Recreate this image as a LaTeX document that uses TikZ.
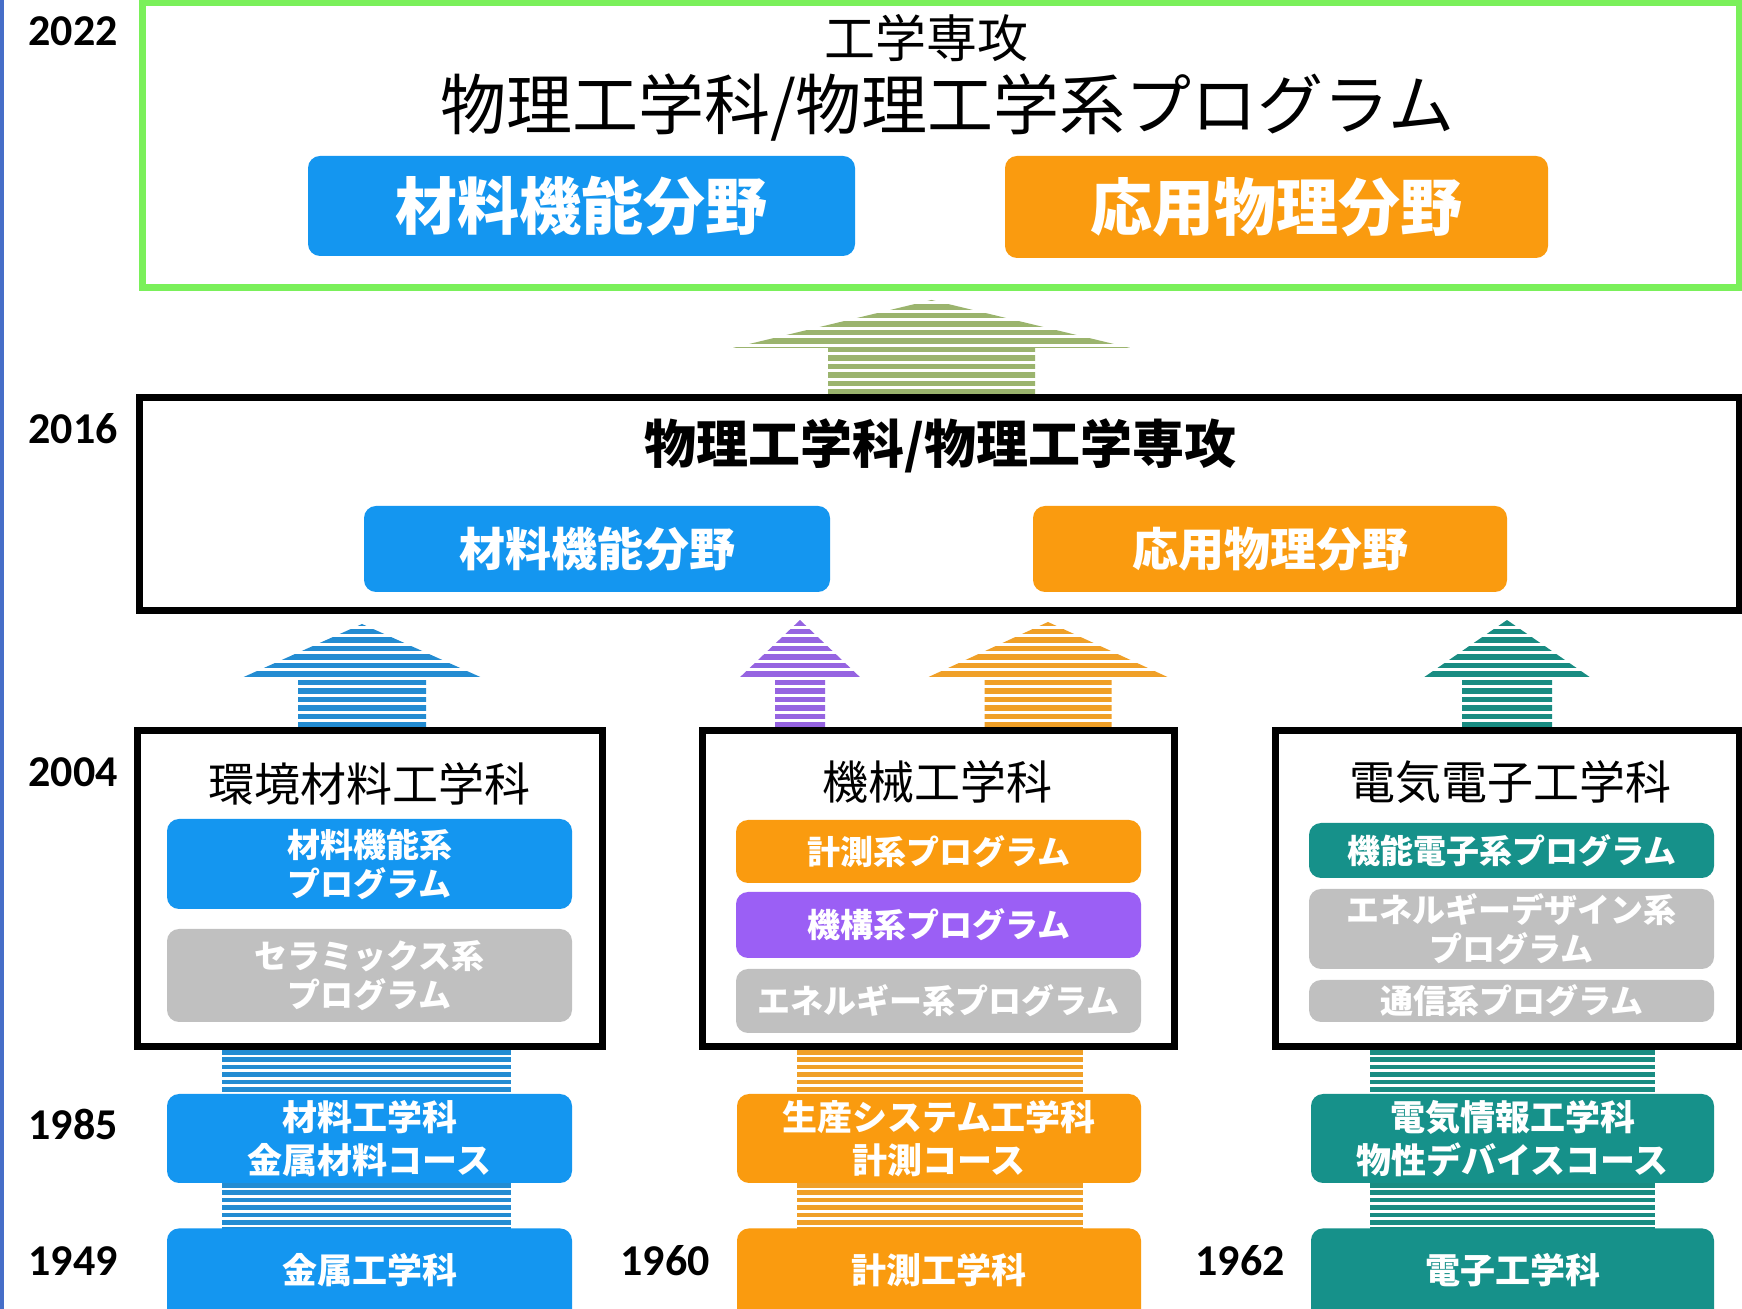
\documentclass[tikz,border=0pt]{standalone}
\usepackage{fontspec}
\setmainfont{Noto Sans CJK JP}
\newfontfamily\yearfont{Carlito}
\definecolor{cBlue}{RGB}{20,150,240}
\definecolor{cOrange}{RGB}{250,155,15}
\definecolor{cTeal}{RGB}{22,145,138}
\definecolor{cPurple}{RGB}{155,95,245}
\definecolor{cGray}{RGB}{192,192,192}
\definecolor{frameGreen}{RGB}{122,240,90}
\definecolor{aGreen}{RGB}{155,180,110}
\definecolor{aBlue}{RGB}{35,140,210}
\definecolor{aOrange}{RGB}{240,160,40}
\definecolor{aPurple}{RGB}{150,100,225}
\definecolor{aTeal}{RGB}{25,140,130}
\definecolor{leftBlue}{RGB}{70,110,200}
% color, cx, tipy, headhalf, basey, shafthalf, bottomy
\newcommand{\stripearrow}[7]{%
  \begin{scope}
    \clip ({#2},{#3}) -- ({#2+#4},{#5}) -- ({#2+#6},{#5}) -- ({#2+#6},{#7}) -- ({#2-#6},{#7}) -- ({#2-#6},{#5}) -- ({#2-#4},{#5}) -- cycle;
    \foreach \k in {0,...,16} \fill[#1] ({#2-#4},{#7-\k*8.5-5.5}) rectangle ({#2+#4},{#7-\k*8.5});
  \end{scope}}
% color, x1, y1, x2, y2
\newcommand{\stripebar}[5]{%
  \begin{scope}
    \clip (#2,#3) rectangle (#4,#5);
    \foreach \k in {0,...,8} \fill[#1] (#2,{#3+\k*7.4}) rectangle (#4,{#3+\k*7.4+4.6});
  \end{scope}}
\begin{document}
\begin{tikzpicture}[x=0.5pt,y=-0.5pt,
  sz/.style 2 args={minimum width=#1*0.5pt, minimum height=#2*0.5pt},
  frame/.style={draw=black, line width=3.5pt, inner sep=0pt},
  gframe/.style={draw=frameGreen, line width=3.5pt, inner sep=0pt},
  rbox/.style={rounded corners=6pt, inner sep=0pt, text=white, align=center, font=\bfseries\fontsize{16.5}{19.5}\selectfont},
  lowbox/.style={rbox, font=\bfseries\fontsize{17.5}{21.5}\selectfont},
  bluebox/.style={rbox, fill=cBlue},
  orangebox/.style={rbox, fill=cOrange},
  tealbox/.style={rbox, fill=cTeal},
  purplebox/.style={rbox, fill=cPurple},
  graybox/.style={rbox, fill=cGray},
  year/.style={inner sep=0pt, font=\yearfont\bfseries\fontsize{22}{22}\selectfont},
  dept/.style={inner sep=0pt, font=\fontsize{23}{24}\selectfont},
  boxtext/.style={inner sep=0pt, text=white, font=\bfseries\fontsize{17.5}{21.5}\selectfont}
]
\useasboundingbox (0,0) rectangle (1742,1309);
\fill[white] (0,0) rectangle (1742,1309);
\fill[leftBlue] (0,0) rectangle (4,1309);

% striped connectors at the bottom
\stripebar{aBlue}{222}{1050}{511}{1094}
\stripebar{aBlue}{222}{1183}{511}{1228}
\stripebar{aOrange}{797}{1050}{1083}{1094}
\stripebar{aOrange}{797}{1183}{1083}{1228}
\stripebar{aTeal}{1370}{1050}{1655}{1094}
\stripebar{aTeal}{1370}{1183}{1655}{1228}

% striped arrows
\stripearrow{aGreen}{931.5}{300}{199}{348}{103.5}{395}
\stripearrow{aBlue}{362}{624}{125}{680}{64}{728}
\stripearrow{aPurple}{800}{620}{63}{680}{25}{728}
\stripearrow{aOrange}{1048}{622}{126}{680}{63.5}{728}
\stripearrow{aTeal}{1507}{620}{87}{680}{45}{728}

% frames
\node[gframe, sz={1597}{285}] (f22) at (940.5,145.5) {};
\node[frame, sz={1600}{213}] (f16) at (939,504.5) {};
\node[frame, sz={465}{316}] (fL) at (369.5,889) {};
\node[frame, sz={472}{316}] (fM) at (938,889) {};
\node[frame, sz={464}{316}] (fR) at (1507,889) {};

% years
\node[year] (y22) at (73,31) {2022};
\node[year] (y16) at (73,429) {2016};
\node[year] (y04) at (73,772) {2004};
\node[year] (y85) at (73,1124) {1985};
\node[year] (y49) at (73,1261) {1949};
\node[year] (y60) at (665,1261) {1960};
\node[year] (y62) at (1240,1261) {1962};

% 2022
\node[inner sep=0pt, font=\fontsize{25.5}{26}\selectfont] (t22a) at (926,38) {工学専攻};
\node[inner sep=0pt, font=\fontsize{33}{34}\selectfont] (t22b) at (947,108) {物理工学科/物理工学系プログラム};
\node[bluebox, sz={547}{100}, font=\bfseries\fontsize{31}{32}\selectfont] (m22) at (581.5,206) {材料機能分野};
\node[orangebox, sz={543}{102}, font=\bfseries\fontsize{31}{32}\selectfont] (a22) at (1276.5,207) {応用物理分野};

% 2016
\node[inner sep=0pt, font=\bfseries\fontsize{26}{27}\selectfont] (t16) at (940.5,446) {物理工学科/物理工学専攻};
\node[bluebox, sz={466}{86}, font=\bfseries\fontsize{23}{24}\selectfont] (m16) at (597,549) {材料機能分野};
\node[orangebox, sz={474}{86}, font=\bfseries\fontsize{23}{24}\selectfont] (a16) at (1270,549) {応用物理分野};

% 2004 left
\node[dept] (dL) at (369,784) {環境材料工学科};
\node[bluebox, sz={405}{90}] (pL1) at (369.5,864) {材料機能系\\プログラム};
\node[graybox, sz={405}{93}] (pL2) at (369.5,975.5) {セラミックス系\\プログラム};

% 2004 middle
\node[dept] (dM) at (937,782) {機械工学科};
\node[orangebox, sz={405}{63}] (pM1) at (938.5,851.5) {計測系プログラム};
\node[purplebox, sz={405}{66}] (pM2) at (938.5,925) {機構系プログラム};
\node[graybox, sz={405}{64}] (pM3) at (938.5,1001) {エネルギー系プログラム};

% 2004 right
\node[dept] (dR) at (1510,782) {電気電子工学科};
\node[tealbox, sz={405}{55}] (pR1) at (1511.5,850.5) {機能電子系プログラム};
\node[graybox, sz={405}{80}] (pR2) at (1511.5,929) {エネルギーデザイン系\\プログラム};
\node[graybox, sz={405}{42}] (pR3) at (1511.5,1001) {通信系プログラム};

% 1985
\node[bluebox, lowbox, sz={405}{89}] (b85L) at (369.5,1138.5) {材料工学科\\金属材料コース};
\node[orangebox, lowbox, sz={404}{89}] (b85M) at (939,1138.5) {生産システム工学科\\計測コース};
\node[tealbox, lowbox, sz={403}{89}] (b85R) at (1512.5,1138.5) {電気情報工学科\\物性デバイスコース};

% 1949 / 1960 / 1962
\node[bluebox, sz={405}{120}, anchor=north] (b49) at (369.5,1228) {};
\node[orangebox, sz={404}{120}, anchor=north] (b60) at (939,1228) {};
\node[tealbox, sz={403}{120}, anchor=north] (b62) at (1512.5,1228) {};
\node[boxtext] (t49) at (369.5,1270) {金属工学科};
\node[boxtext] (t60) at (939,1270) {計測工学科};
\node[boxtext] (t62) at (1512.5,1270) {電子工学科};
\end{tikzpicture}
\end{document}
